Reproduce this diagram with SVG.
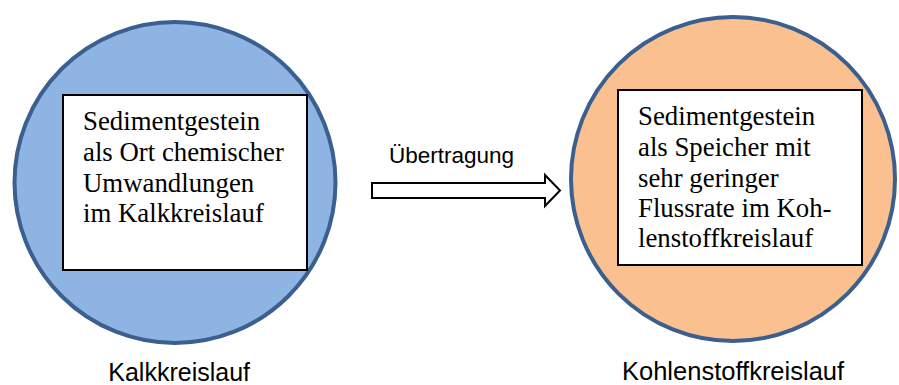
<svg xmlns="http://www.w3.org/2000/svg" width="899" height="385" viewBox="0 0 899 385">
<style>
.circ{stroke:#3B5F8E;stroke-width:4}
.box{fill:#ffffff;stroke:#000000;stroke-width:2}
.serif{font-family:"Liberation Serif","Times New Roman",serif;font-size:26.8px;fill:#000}
.sans{font-family:"Liberation Sans",Arial,sans-serif;fill:#000}
</style>
<rect width="899" height="385" fill="#ffffff"/>
<g id="kalk">
<circle class="circ" cx="175" cy="182.5" r="160.5" fill="#8EB4E3"/>
<rect class="box" x="63" y="95" width="244" height="175"/>
<text class="serif" x="83" y="130">Sedimentgestein</text>
<text class="serif" x="83" y="161">als Ort chemischer</text>
<text class="serif" x="83" y="192">Umwandlungen</text>
<text class="serif" x="83" y="222">im Kalkkreislauf</text>
<text class="sans" x="250" y="381" font-size="25" text-anchor="end">Kalkkreislauf</text>
</g>
<g id="kohlenstoff">
<circle class="circ" cx="733" cy="179" r="162" fill="#FAC090"/>
<rect class="box" x="618" y="90" width="244" height="175"/>
<text class="serif" x="638" y="125">Sedimentgestein</text>
<text class="serif" x="638" y="156">als Speicher mit</text>
<text class="serif" x="638" y="187">sehr geringer</text>
<text class="serif" x="638" y="217">Flussrate im Koh-</text>
<text class="serif" x="638" y="247">lenstoffkreislauf</text>
<text class="sans" x="622" y="380" font-size="25.5">Kohlenstoffkreislauf</text>
</g>
<g id="connectors">
<path d="M372,183 L545,183 L545,175 L560,190.5 L545,206 L545,198 L372,198 Z" fill="#ffffff" stroke="#000" stroke-width="2"/>
<text class="sans" x="389" y="163" font-size="22.5">Übertragung</text>
</g>
</svg>
